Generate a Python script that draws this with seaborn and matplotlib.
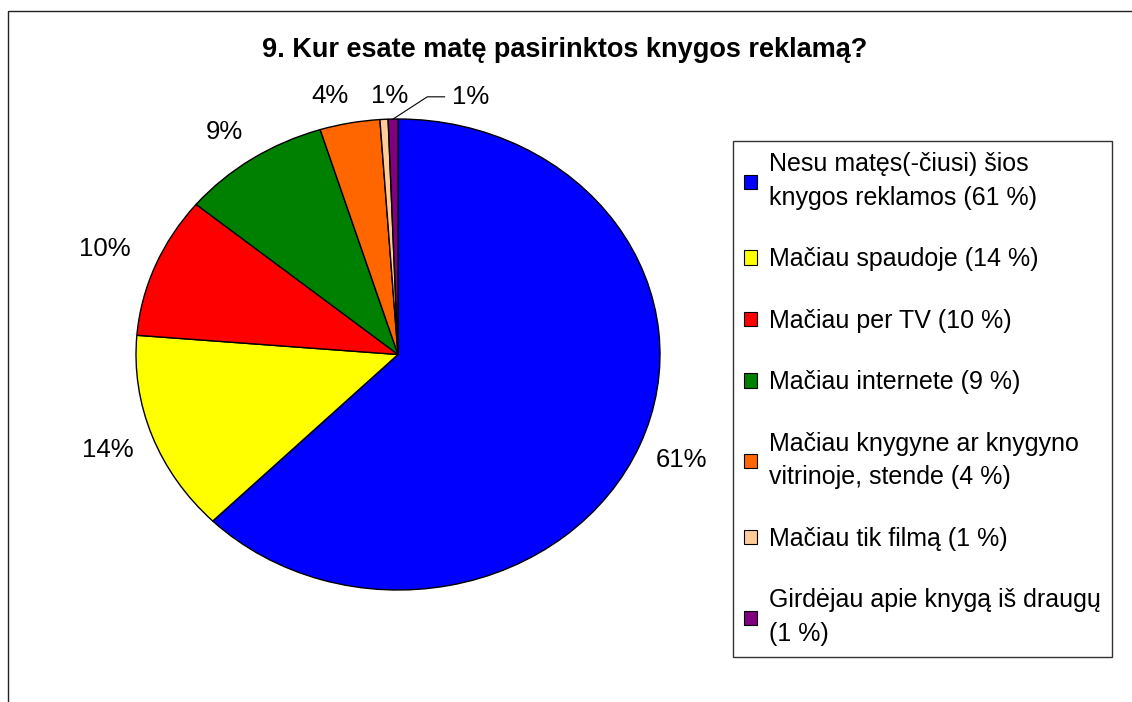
import numpy as np
import seaborn as sns
import matplotlib.pyplot as plt
from matplotlib.patches import Rectangle

categories = ["Nesu matęs(-čiusi) šios\nknygos reklamos (61 %)",
              "Mačiau spaudoje (14 %)",
              "Mačiau per TV (10 %)",
              "Mačiau internete (9 %)",
              "Mačiau knygyne ar knygyno\nvitrinoje, stende (4 %)",
              "Mačiau tik filmą (1 %)",
              "Girdėjau apie knygą iš draugų\n(1 %)"]
values = [62.5, 13.8, 9.7, 9.2, 3.7, 0.5, 0.6]
pct_labels = ["61%", "14%", "10%", "9%", "4%", "1%", "1%"]
colors = ["#0000FF", "#FFFF00", "#FF0000", "#008000", "#FF6600", "#FFCC99", "#800080"]

sns.set_style("white")
plt.rcParams['font.family'] = ['Liberation Sans', 'DejaVu Sans']
plt.rcParams['text.color'] = 'black'

fig = plt.figure(figsize=(11.32, 7.02), dpi=100)
W, H = 1132, 702

# outer chart frame (right and bottom edges fall outside the picture)
fig.patches.append(Rectangle((8 / W, -0.05), 1.2, 1 - 11 / H + 0.05, transform=fig.transFigure,
                             fill=False, edgecolor="#222222", linewidth=1.0))

ax = fig.add_axes([136 / W, (702 - 590) / H, 524 / W, 471 / H])
wedges, _ = ax.pie(values, colors=colors, startangle=90, counterclock=False,
                   wedgeprops={"edgecolor": "black", "linewidth": 1.0})
ax.set_aspect("auto")
ax.set_xlim(-1, 1)
ax.set_ylim(-1, 1)
ax.axis("off")

# label distance and small nudges (points) so the top labels don't collide
dist = [1.17, 1.18, 1.19, 1.16, 1.13, 1.11]
nudge = [(0, 0), (0, 0), (-3, 0), (-3, -3), (-10, -2), (5, -2)]
for w, lab, d, nd in zip(wedges[:-1], pct_labels[:-1], dist, nudge):
    mid = np.deg2rad((w.theta1 + w.theta2) / 2)
    ax.annotate(lab, xy=(d * np.cos(mid), d * np.sin(mid)), xytext=nd, textcoords="offset points",
                ha="center", va="center", fontsize=18.5, annotation_clip=False)

# last small slice gets a leader line
w = wedges[-1]
mid = np.deg2rad((w.theta1 + w.theta2) / 2)
ax.annotate(pct_labels[-1], xy=(np.cos(mid), np.sin(mid)), xytext=(56, 16),
            textcoords="offset points", ha="center", va="center", fontsize=18.5,
            annotation_clip=False,
            arrowprops=dict(arrowstyle="-", color="black", lw=0.8, shrinkA=3, shrinkB=0,
                            connectionstyle="angle,angleA=180,angleB=33,rad=0"))

fig.text(565 / W, 1 - 50 / H, "9. Kur esate matę pasirinktos knygos reklamą?",
         ha="center", va="center", fontsize=19.5, fontweight="bold")

leg = fig.legend(wedges, categories, loc="upper left", bbox_to_anchor=(733 / W, 1 - 141 / H),
                 bbox_transform=fig.transFigure, borderaxespad=0, fontsize=18,
                 frameon=True, fancybox=False, shadow=False, edgecolor="black",
                 handlelength=0.5, handleheight=0.5, handletextpad=0.5,
                 labelspacing=1.5, borderpad=0.45)
leg.get_frame().set_linewidth(1.0)
for t in leg.get_texts():
    t.set_linespacing(1.5)
    t.set_color("black")
for h in leg.legend_handles:
    h.set_edgecolor("black")
    h.set_linewidth(0.8)

fig.savefig("out.png", dpi=100)
